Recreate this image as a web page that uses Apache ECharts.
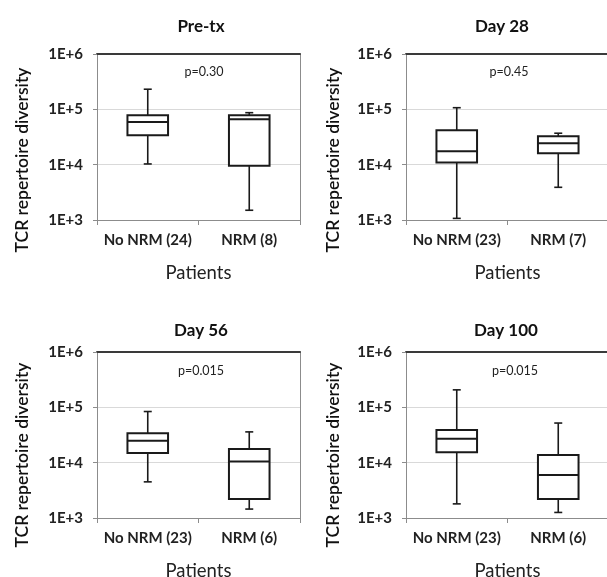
<!DOCTYPE html>
<html>
<head>
<meta charset="utf-8">
<script src="https://cdn.jsdelivr.net/npm/echarts@6/dist/echarts.min.js"></script>
<style>
html,body{margin:0;padding:0;background:#fff;}
#chart{width:607px;height:577px;}
</style>
</head>
<body>
<div id="chart"></div>
<script>
// ---- data ----
const panelTitles = ['Pre-tx', 'Day 28', 'Day 56', 'Day 100'];
const pValues = ['p=0.30', 'p=0.45', 'p=0.015', 'p=0.015'];
const categoriesPreTx = ['No NRM (24)', 'NRM (8)'];
const categoriesDay28 = ['No NRM (23)', 'NRM (7)'];
const categoriesDay56 = ['No NRM (23)', 'NRM (6)'];
const categoriesDay100 = ['No NRM (23)', 'NRM (6)'];
const yTickLabels = ['1E+3', '1E+4', '1E+5', '1E+6'];
const yAxisTitle = 'TCR repertoire diversity';
const xAxisTitle = 'Patients';
// [whisker low, Q1, median, Q3, whisker high]
const boxPreTx = [[10300, 34000, 59000, 78000, 231000], [1500, 9600, 66000, 78000, 87000]];
const boxDay28 = [[1070, 10900, 17500, 42000, 107000], [3900, 16000, 24300, 32600, 37000]];
const boxDay56 = [[4500, 14900, 24800, 34000, 84000], [1450, 2200, 10500, 17600, 36000]];
const boxDay100 = [[1800, 15500, 27000, 39000, 207000], [1260, 2200, 6000, 13700, 52000]];

const categories = [categoriesPreTx, categoriesDay28, categoriesDay56, categoriesDay100];
const boxes = [boxPreTx, boxDay28, boxDay56, boxDay100];

// ---- layout (styles only) ----
const FONT = 'Lato, "Open Sans", sans-serif';
const grids = [
  {left: 97, top: 54, width: 203, height: 166, outerBoundsMode: 'none'},
  {left: 406, top: 54, width: 203, height: 166, outerBoundsMode: 'none'},
  {left: 97, top: 352, width: 203, height: 166, outerBoundsMode: 'none'},
  {left: 406, top: 352, width: 203, height: 166, outerBoundsMode: 'none'}
];
const titlePos = [[196, 13], [497, 13], [196, 317], [501, 317]];
const pPos = [[199, 60], [504, 60], [196, 359], [510, 359]];
const yLabelPos = [[22, 160], [333, 160], [22, 455], [333, 455]];

function renderBox(params, api) {
  const x = api.value(0);
  const pLo = api.coord([x, api.value(1)]);
  const pQ1 = api.coord([x, api.value(2)]);
  const pMed = api.coord([x, api.value(3)]);
  const pQ3 = api.coord([x, api.value(4)]);
  const pHi = api.coord([x, api.value(5)]);
  const bw = api.size([1, 0])[0] * 0.4;
  const cx = pMed[0];
  const cap = 4;
  const stroke = {stroke: '#1a1a1a', lineWidth: 1.6, fill: null};
  return {
    type: 'group',
    children: [
      {type: 'line', shape: {x1: cx, y1: pQ3[1], x2: cx, y2: pHi[1]}, style: stroke},
      {type: 'line', shape: {x1: cx, y1: pQ1[1], x2: cx, y2: pLo[1]}, style: stroke},
      {type: 'line', shape: {x1: cx - cap, y1: pHi[1], x2: cx + cap, y2: pHi[1]}, style: stroke},
      {type: 'line', shape: {x1: cx - cap, y1: pLo[1], x2: cx + cap, y2: pLo[1]}, style: stroke},
      {type: 'rect', shape: {x: cx - bw / 2, y: pQ3[1], width: bw, height: pQ1[1] - pQ3[1]},
        style: {stroke: '#1a1a1a', lineWidth: 2, fill: '#fff'}},
      {type: 'line', shape: {x1: cx - bw / 2, y1: pMed[1], x2: cx + bw / 2, y2: pMed[1]},
        style: {stroke: '#1a1a1a', lineWidth: 2}}
    ]
  };
}

const option = {
  backgroundColor: '#fff',
  animation: false,
  title: [],
  grid: grids,
  xAxis: [],
  yAxis: [],
  series: [],
  graphic: []
};

for (let i = 0; i < 4; i++) {
  option.title.push({
    text: panelTitles[i], left: titlePos[i][0], top: titlePos[i][1], textAlign: 'center',
    textStyle: {fontFamily: FONT, fontSize: 17, fontWeight: 'bold', color: '#111'}
  });
  option.title.push({
    text: pValues[i], left: pPos[i][0], top: pPos[i][1], textAlign: 'center',
    textStyle: {fontFamily: FONT, fontSize: 12.5, fontWeight: 'normal', color: '#222'}
  });
  option.graphic.push({
    type: 'text', x: yLabelPos[i][0], y: yLabelPos[i][1], rotation: Math.PI / 2,
    style: {text: yAxisTitle, font: '600 17.5px ' + FONT, fill: '#111', align: 'center', verticalAlign: 'middle'}
  });
  option.xAxis.push({
    type: 'category', gridIndex: i, data: categories[i], position: 'bottom',
    boundaryGap: true,
    axisLine: {show: true, lineStyle: {color: '#8c8c8c', width: 1}},
    axisTick: {show: true, length: 5, lineStyle: {color: '#8c8c8c'}},
    axisLabel: {interval: 0, hideOverlap: false, fontFamily: FONT, fontSize: 15, fontWeight: 'bold', color: '#222', margin: 13},
    name: xAxisTitle, nameLocation: 'middle', nameGap: 44,
    nameTextStyle: {fontFamily: FONT, fontSize: 18.5, color: '#222'}
  });
  option.xAxis.push({
    type: 'category', gridIndex: i, data: categories[i], position: 'top',
    axisLine: {show: true, lineStyle: {color: '#3a3a3a', width: 2}},
    axisTick: {show: false}, axisLabel: {show: false}
  });
  option.yAxis.push({
    type: 'log', logBase: 10, gridIndex: i, min: 1000, max: 1000000,
    axisLine: {show: true, lineStyle: {color: '#8c8c8c', width: 1}},
    axisTick: {show: true, length: 4, lineStyle: {color: '#8c8c8c'}},
    minorTick: {show: false},
    splitLine: {show: true, lineStyle: {color: '#d9d9d9', width: 1}},
    axisLabel: {
      fontFamily: FONT, fontSize: 15, fontWeight: 'bold', color: '#222', margin: 14,
      formatter: function (v) { return yTickLabels[Math.round(Math.log10(v)) - 3]; }
    }
  });
  option.yAxis.push({
    type: 'value', gridIndex: i, position: 'right', min: 0, max: 1,
    axisLine: {show: true, lineStyle: {color: '#8c8c8c', width: 1}},
    axisTick: {show: false}, axisLabel: {show: false}, splitLine: {show: false}
  });
  option.series.push({
    type: 'custom', xAxisIndex: 2 * i, yAxisIndex: 2 * i,
    renderItem: renderBox,
    encode: {x: 0, y: [1, 2, 3, 4, 5]},
    data: boxes[i].map(function (b, k) { return [k].concat(b); }),
    z: 5
  });
}

const chart = echarts.init(document.getElementById('chart'), null, {renderer: 'canvas'});
chart.setOption(option);
</script>
</body>
</html>
